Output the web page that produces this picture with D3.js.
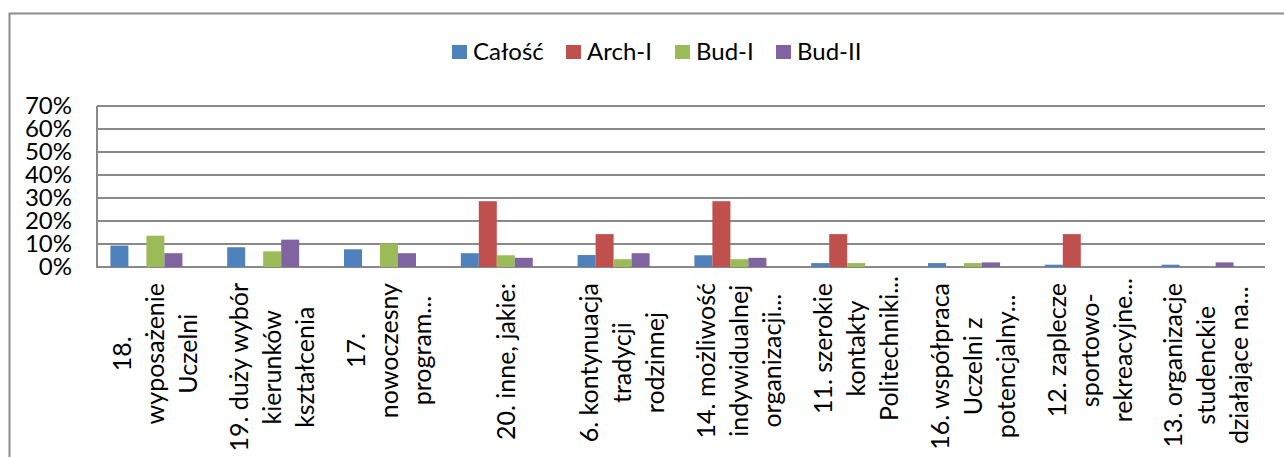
<!DOCTYPE html>
<html><head><meta charset="utf-8">
<script src="https://cdn.jsdelivr.net/npm/d3@7/dist/d3.min.js"></script>
<style>
html,body{margin:0;padding:0;background:#fff;}
svg{display:block;font-family:Lato, "Open Sans", sans-serif;}
</style></head>
<body>
<svg id="chart" width="1284" height="457"></svg>
<script>
const categories = ["18. wyposażenie Uczelni","19. duży wybór kierunków kształcenia","17. nowoczesny program","20. inne, jakie:","6. kontynuacja tradycji rodzinnej","14. możliwość indywidualnej organizacji","11. szerokie kontakty Politechniki","16. współpraca Uczelni z potencjalny","12. zaplecze sportowo-rekreacyjne","13. organizacje studenckie działające na"];
const tickLabels = [
  ["18.","wyposażenie","Uczelni"],
  ["19. duży wybór","kierunków","kształcenia"],
  ["17.","nowoczesny","program..."],
  ["20. inne, jakie:"],
  ["6. kontynuacja","tradycji","rodzinnej"],
  ["14. możliwość","indywidualnej","organizacji..."],
  ["11. szerokie","kontakty","Politechniki..."],
  ["16. współpraca","Uczelni z","potencjalny..."],
  ["12. zaplecze","sportowo-","rekreacyjne..."],
  ["13. organizacje","studenckie","działające na..."]
];
const seriesNames = ["Całość","Arch-I","Bud-I","Bud-II"];
const calosc = [9.3, 8.6, 7.7, 6.0, 5.2, 5.1, 1.7, 1.7, 1.0, 1.0];
const archI  = [0, 0, 0, 28.6, 14.3, 28.6, 14.3, 0, 14.3, 0];
const budI   = [13.6, 6.8, 10.2, 5.1, 3.4, 3.4, 1.7, 1.7, 0, 0];
const budII  = [6.0, 11.9, 6.0, 4.0, 6.0, 4.0, 0, 2.0, 0, 2.0];
const yTicks = [0,10,20,30,40,50,60,70];
const colors = ["#4F81BD","#C0504D","#9BBB59","#8064A2"];

const series = [calosc, archI, budI, budII];
const svg = d3.select("#chart");
const L = 97, R = 1265, T = 106, B = 267;

// outer frame
svg.append("path").attr("d", `M9.5,470 L9.5,13.5 L1290,13.5`)
  .attr("fill","none").attr("stroke","#8c8c8c").attr("stroke-width",2);

const x = d3.scaleBand().domain(categories).range([L, R]);
const y = d3.scaleLinear().domain([0,70]).range([B, T]);
const barW = 18;
const inner = d3.scaleBand().domain(d3.range(5)).range([x.bandwidth()/2 - 45, x.bandwidth()/2 + 45]);

// gridlines
svg.append("g").selectAll("line").data(yTicks).join("line")
  .attr("x1", L).attr("x2", R).attr("y1", d=>y(d)).attr("y2", d=>y(d))
  .attr("stroke","#898989").attr("stroke-width",2);
svg.append("line").attr("x1",L).attr("x2",L).attr("y1",T).attr("y2",B+1)
  .attr("stroke","#898989").attr("stroke-width",2);

// y tick labels
svg.append("g").selectAll("text").data(yTicks).join("text")
  .attr("x", 72).attr("y", d=>y(d)).attr("dy","0.35em")
  .attr("text-anchor","end").attr("font-size",24).attr("fill","#000")
  .text(d=>d+"%");

// bars
series.forEach((vals, si) => {
  svg.append("g").selectAll("rect").data(vals.map((v,i)=>({v, c:categories[i]}))).join("rect")
    .attr("x", d=> x(d.c) + inner(si))
    .attr("width", barW)
    .attr("y", d=> y(d.v))
    .attr("height", d=> B - y(d.v))
    .attr("fill", colors[si]);
});

// x labels (rotated, multi-line)
const lineGap = 33, fs = 25, topY = 283;
const meas = svg.append("text").attr("font-size", fs).attr("visibility","hidden");
tickLabels.forEach((lines, i) => {
  const cx = x(categories[i]) + x.bandwidth()/2;
  let maxW = 0;
  lines.forEach(l => { meas.text(l.replace(/\.\.\.$/,"")); maxW = Math.max(maxW, meas.node().getComputedTextLength()); });
  const cy = topY + maxW/2;
  const g = svg.append("g").attr("transform", `translate(${cx},${cy}) rotate(-90)`);
  const n = lines.length;
  lines.forEach((l, k) => {
    g.append("text").attr("x",0).attr("y", (k - (n-1)/2) * lineGap).attr("dy","0.35em")
      .attr("text-anchor","middle").attr("font-size",fs).attr("fill","#000").text(l);
  });
});
meas.remove();

// legend
const legX = [452, 566, 675, 776];
const lg = svg.append("g");
seriesNames.forEach((n, i) => {
  lg.append("rect").attr("x", legX[i]).attr("y", 45).attr("width",15).attr("height",14).attr("fill",colors[i]);
  lg.append("text").attr("x", legX[i]+21).attr("y", 52).attr("dy","0.35em")
    .attr("font-size",24).attr("fill","#000").text(n);
});
</script>
</body></html>
